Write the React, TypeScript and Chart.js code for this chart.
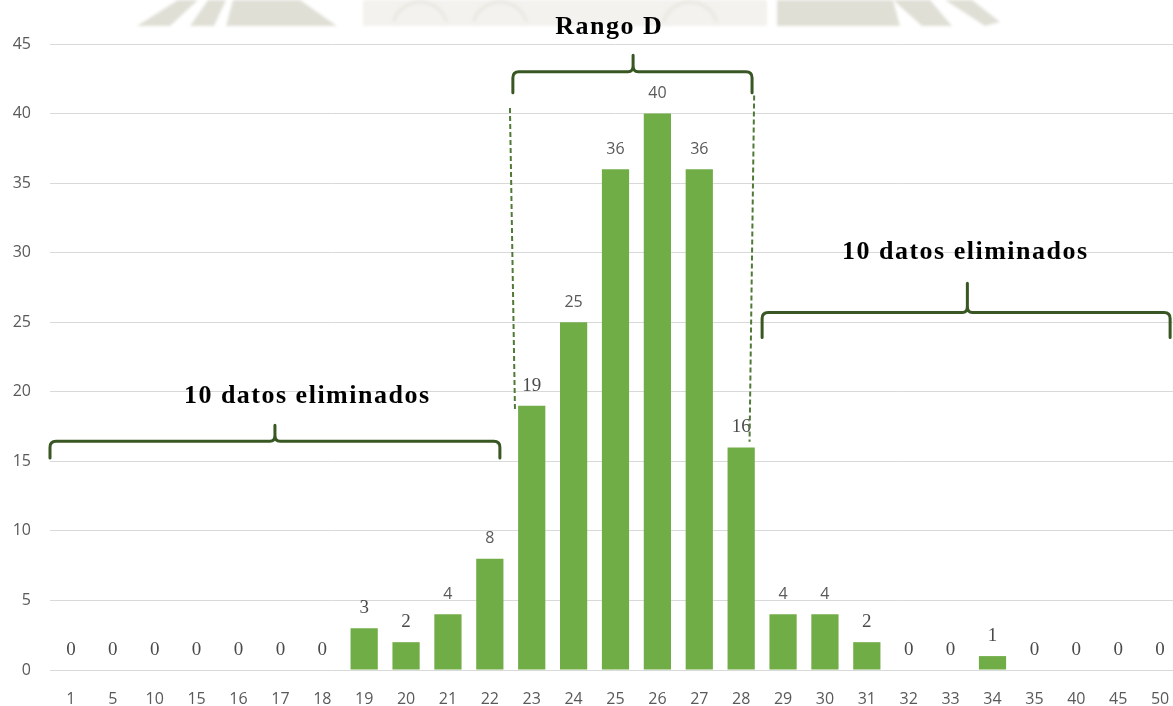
import { useEffect, useRef } from 'react';
import { Chart, registerables } from 'chart.js';

Chart.register(...registerables);

// Histogram data: number of samples per class
const categories = ['1', '5', '10', '15', '16', '17', '18', '19', '20', '21', '22', '23', '24', '25', '26', '27', '28', '29', '30', '31', '32', '33', '34', '35', '40', '45', '50'];
const counts = [0, 0, 0, 0, 0, 0, 0, 3, 2, 4, 8, 19, 25, 36, 40, 36, 16, 4, 4, 2, 0, 0, 1, 0, 0, 0, 0];
const yMax = 45;
const yStep = 5;

// Annotation captions
const rangeCaption = 'Rango D';
const removedCaption = '10 datos eliminados';

// Value labels that were typed in a serif face
const serifLabelCategories = new Set(['1', '5', '10', '15', '16', '17', '18', '19', '20', '23', '28', '31', '32', '33', '34', '35', '40', '45', '50']);

// Braces expressed in axis units (category index, y value)
const braces = [
  { x0: 10.55, x1: 16.26, tip: 13.42, yLine: 43.0, yEnd: 41.5, yTip: 44.2 },
  { x0: -0.5, x1: 10.24, tip: 4.87, yLine: 16.45, yEnd: 15.24, yTip: 17.6 },
  { x0: 16.5, x1: 26.24, tip: 21.4, yLine: 25.7, yEnd: 23.9, yTip: 27.8 },
];
const dashedGuides = [
  { xa: 10.48, ya: 40.4, xb: 10.6, yb: 18.7 },
  { xa: 16.31, ya: 41.3, xb: 16.2, yb: 16.4 },
];
const captions = [
  { text: rangeCaption, x: 12.85, y: 46.2 },
  { text: removedCaption, x: 5.64, y: 19.7 },
  { text: removedCaption, x: 21.35, y: 30.05 },
];

const BRACE_COLOR = '#385723';
const LABEL_GRAY = '#595959';

const decorPlugin = {
  id: 'decor',
  beforeDraw(chart: any) {
    const ctx = chart.ctx as CanvasRenderingContext2D;
    ctx.save();
    // faint emblem strip along the top edge
    ctx.filter = 'blur(1.5px)';
    ctx.fillStyle = '#f3f2ee';
    ctx.fillRect(363, 0, 404, 26);
    ctx.fillStyle = '#e0dfd6';
    const polys: number[][] = [
      [137, 26, 178, 0, 198, 0, 170, 26],
      [190, 26, 208, 0, 226, 0, 214, 26],
      [226, 26, 233, 0, 300, 0, 337, 26],
      [777, 26, 777, 0, 893, 0, 900, 26],
      [893, 0, 930, 0, 952, 26, 922, 26],
      [945, 0, 972, 0, 1000, 22, 985, 26],
    ];
    for (const p of polys) {
      ctx.beginPath();
      ctx.moveTo(p[0], p[1]);
      for (let i = 2; i < p.length; i += 2) ctx.lineTo(p[i], p[i + 1]);
      ctx.closePath();
      ctx.fill();
    }
    ctx.strokeStyle = '#e9e8e1';
    ctx.lineWidth = 3;
    for (const cx of [420, 500, 690]) {
      ctx.beginPath();
      ctx.arc(cx, 30, 28, Math.PI * 1.1, Math.PI * 1.9);
      ctx.stroke();
    }
    ctx.restore();
  },
  afterDatasetsDraw(chart: any) {
    const ctx = chart.ctx as CanvasRenderingContext2D;
    const meta = chart.getDatasetMeta(0);
    ctx.save();
    ctx.textAlign = 'center';
    ctx.textBaseline = 'middle';
    meta.data.forEach((bar: any, i: number) => {
      const serif = serifLabelCategories.has(categories[i]);
      ctx.font = serif ? '19px "Liberation Serif"' : '16px "Open Sans"';
      ctx.fillStyle = serif ? '#4a4a4a' : LABEL_GRAY;
      ctx.fillText(String(counts[i]), bar.x, bar.y - 20);
    });
    ctx.restore();
  },
  afterDraw(chart: any) {
    const ctx = chart.ctx as CanvasRenderingContext2D;
    const xs = chart.scales.x;
    const ys = chart.scales.y;
    const px = (v: number) => xs.getPixelForValue(v);
    const py = (v: number) => ys.getPixelForValue(v);
    ctx.save();
    ctx.strokeStyle = BRACE_COLOR;
    ctx.lineWidth = 3;
    ctx.lineJoin = 'round';
    ctx.lineCap = 'round';
    for (const b of braces) {
      const x0 = px(b.x0), x1 = px(b.x1), xt = px(b.tip);
      const yl = py(b.yLine), ye = py(b.yEnd), yt = py(b.yTip);
      const r = 6;
      ctx.beginPath();
      ctx.moveTo(x0, ye);
      ctx.lineTo(x0, yl + r);
      ctx.quadraticCurveTo(x0, yl, x0 + r, yl);
      ctx.lineTo(xt - 5, yl);
      ctx.quadraticCurveTo(xt, yl, xt, yl - 6);
      ctx.lineTo(xt, yt);
      ctx.moveTo(xt, yl - 6);
      ctx.quadraticCurveTo(xt, yl, xt + 5, yl);
      ctx.lineTo(x1 - r, yl);
      ctx.quadraticCurveTo(x1, yl, x1, yl + r);
      ctx.lineTo(x1, ye);
      ctx.stroke();
    }
    ctx.lineWidth = 2;
    ctx.lineCap = 'butt';
    ctx.strokeStyle = '#4f7a36';
    ctx.setLineDash([5, 3]);
    for (const d of dashedGuides) {
      ctx.beginPath();
      ctx.moveTo(px(d.xa), py(d.ya));
      ctx.lineTo(px(d.xb), py(d.yb));
      ctx.stroke();
    }
    ctx.setLineDash([]);
    ctx.fillStyle = '#000';
    ctx.font = 'bold 26px "Liberation Serif"';
    ctx.textAlign = 'center';
    ctx.textBaseline = 'middle';
    (ctx as any).letterSpacing = '1.5px';
    for (const c of captions) {
      ctx.fillText(c.text, px(c.x), py(c.y));
    }
    ctx.restore();
  },
};

export default function App() {
  const canvasRef = useRef<HTMLCanvasElement>(null);

  useEffect(() => {
    const chart = new Chart(canvasRef.current!, {
      type: 'bar',
      data: {
        labels: categories,
        datasets: [
          {
            data: counts,
            backgroundColor: '#70AD47',
            barPercentage: 0.65,
            categoryPercentage: 1,
          },
        ],
      },
      options: {
        animation: false,
        responsive: true,
        maintainAspectRatio: false,
        layout: { padding: { top: 44, right: 0, bottom: 0, left: 0 } },
        plugins: {
          legend: { display: false },
          tooltip: { enabled: false },
        },
        scales: {
          x: {
            grid: { display: false },
            border: { display: false },
            ticks: {
              color: LABEL_GRAY,
              font: { family: '"Open Sans"', size: 16 },
              padding: 12,
              maxRotation: 0,
              autoSkip: false,
            },
            afterFit: (s: any) => {
              s.paddingLeft = 0;
              s.paddingRight = 0;
              s.height = 36;
            },
          },
          y: {
            min: 0,
            max: yMax,
            grid: { color: '#d9d9d9', drawTicks: false, lineWidth: 1 },
            border: { display: false },
            ticks: {
              stepSize: yStep,
              color: LABEL_GRAY,
              font: { family: '"Open Sans"', size: 16 },
              padding: 19,
            },
            afterFit: (s: any) => {
              s.width = 50;
            },
          },
        },
      },
      plugins: [decorPlugin],
    });
    return () => chart.destroy();
  }, []);

  return (
    <div style={{ position: 'fixed', left: 0, top: 0, width: '100vw', height: '100vh', overflow: 'hidden', background: '#fff' }}>
      <div style={{ position: 'absolute', left: 0, top: 0, width: 1181, height: 706 }}>
        <canvas ref={canvasRef} />
      </div>
    </div>
  );
}
